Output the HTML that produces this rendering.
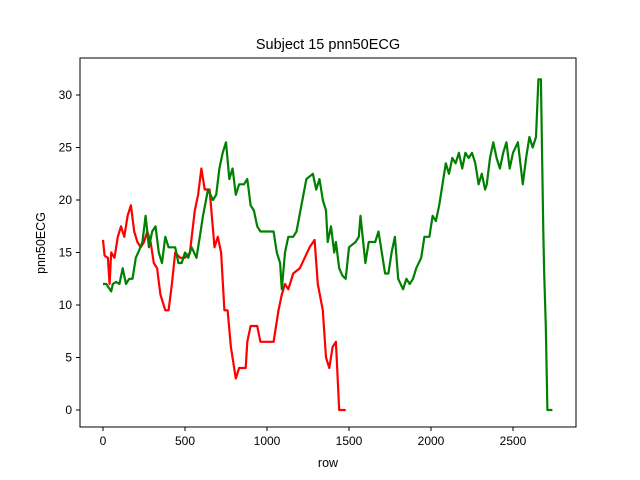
<!DOCTYPE html>
<html><head><meta charset="utf-8"><style>body{margin:0;background:#fff}svg{display:block;font-family:"Liberation Sans","DejaVu Sans",sans-serif}</style></head>
<body>
<svg id="chart" width="640" height="480">
<rect x="0" y="0" width="640" height="480" fill="#fff"/>
<text x="328" y="49" text-anchor="middle" font-size="14.5">Subject 15 pnn50ECG</text>
<g id="plot"></g>
<rect x="80" y="58" width="496" height="369" fill="none" stroke="#000" stroke-width="1"/>
<text x="328" y="467" text-anchor="middle" font-size="12.5">row</text>
<text transform="translate(45,243) rotate(-90)" text-anchor="middle" font-size="12.5">pnn50ECG</text>
</svg>
<script>
const xTicks=[0,500,1000,1500,2000,2500];
const yTicks=[0,5,10,15,20,25,30];
const redRows=[0,10,30,40,50,70,90,110,130,150,170,190,210,230,250,270,290,310,330,350,380,400,420,440,470,500,530,560,580,600,620,650,680,700,720,740,760,780,810,830,870,880,900,940,960,1000,1040,1070,1090,1110,1130,1160,1200,1230,1260,1290,1310,1340,1360,1380,1400,1420,1440,1480];
const redVals=[16.2,14.7,14.5,12,15,14.5,16.5,17.5,16.5,18.5,19.5,17,16,15.5,16,17,16,14,13.5,11,9.5,9.5,12,15,14.5,14.5,15,19,20.5,23,21,21,15.5,16.5,15,9.5,9.5,6,3,4,4,6.5,8,8,6.5,6.5,6.5,9.5,11,12,11.5,13,13.5,14.5,15.5,16.2,12,9.5,5,4,6,6.5,0,0];
const greenRows=[0,20,50,60,80,100,120,140,160,180,200,220,240,260,280,300,320,340,360,380,400,440,460,480,500,520,540,570,590,610,640,670,690,710,730,750,770,790,810,830,860,880,900,920,940,960,990,1040,1060,1080,1090,1110,1130,1160,1180,1210,1240,1280,1300,1320,1340,1360,1370,1390,1410,1420,1440,1460,1480,1500,1540,1560,1570,1580,1600,1620,1660,1680,1700,1720,1740,1760,1780,1800,1830,1850,1870,1890,1910,1940,1960,1990,2010,2030,2050,2070,2090,2110,2130,2150,2170,2190,2210,2230,2250,2270,2290,2310,2330,2340,2360,2380,2400,2420,2440,2460,2480,2500,2530,2560,2580,2600,2620,2640,2655,2670,2685,2690,2700,2710,2740];
const greenVals=[12,12,11.3,12,12.2,12,13.5,12,12.5,12.5,14.5,15.2,16,18.5,15.5,17,17.5,15,14,16.5,15.5,15.5,14,14,15,14.5,15.5,14.5,16.5,18.5,21,20,20.5,23,24.5,25.5,22,23,20.5,21.5,21.5,22,19.5,19,17.5,17,17,17,15,14,11.5,15,16.5,16.5,17,19.5,22,22.5,21,22,20,19,16,17.5,15,16,13.5,12.8,12.5,15.5,16,16.5,18.5,17,14,16,16,17,15,13,13,15,16.5,12.5,11.5,12.5,12,12.5,13.5,14.5,16.5,16.5,18.5,18,19.5,21.5,23.5,22.5,24,23.5,24.5,23,24.5,24,24.5,23.5,21.5,22.5,21,21.5,24,25.5,24,23,24.5,25.5,23,24.5,25.5,21.5,24,26,25,26,31.5,31.5,17,13,8,0,0];
const NS="http://www.w3.org/2000/svg";
const xs=v=>103+v*82/500;
const ys=v=>410-v*10.5;
const svg=document.getElementById('plot');
function line(x1,y1,x2,y2){const l=document.createElementNS(NS,'line');l.setAttribute('x1',x1);l.setAttribute('y1',y1);l.setAttribute('x2',x2);l.setAttribute('y2',y2);l.setAttribute('stroke','#000');return l;}
function txt(x,y,s,a){const t=document.createElementNS(NS,'text');t.setAttribute('x',x);t.setAttribute('y',y);t.setAttribute('font-size','12');t.setAttribute('text-anchor',a);t.textContent=s;return t;}
xTicks.forEach(v=>{const x=xs(v);
const l=line(x,427,x,431);


svg.appendChild(l);
const t=txt(x,445,String(v),'middle');


svg.appendChild(t);});
yTicks.forEach(v=>{const y=ys(v);
const l=line(76,y,80,y);


svg.appendChild(l);
const t=txt(72,y+4,String(v),'end');


svg.appendChild(t);});
function series(rows,vals,color,name){const p=document.createElementNS(NS,'path');
let d='';rows.forEach((r,i)=>{d+=(i?'L':'M')+xs(r).toFixed(1)+','+ys(vals[i]).toFixed(1);});
p.setAttribute('d',d);p.setAttribute('fill','none');p.setAttribute('stroke',color);p.setAttribute('stroke-width','2.2');p.setAttribute('stroke-linejoin','round');


svg.appendChild(p);}
series(redRows,redVals,'#ff0000','red-series-line');
series(greenRows,greenVals,'#008000','green-series-line');
</script>
</body></html>
